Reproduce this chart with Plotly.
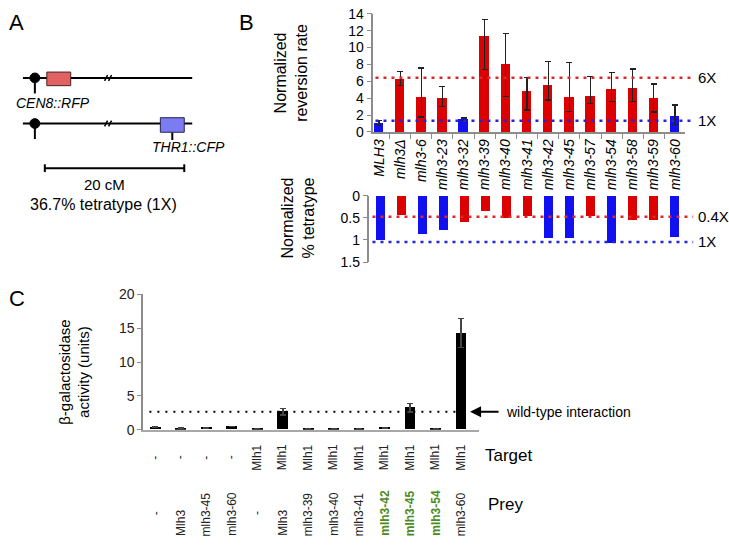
import plotly.graph_objects as go

W, H = 729, 548
FONT = "Liberation Sans, Arial, sans-serif"

def px(x):
    return x / W

def py(y):
    return 1 - y / H

# ---------------- Panel B data ----------------
b_strains = ["MLH3", "mlh3Δ", "mlh3-6", "mlh3-23", "mlh3-32", "mlh3-39", "mlh3-40",
             "mlh3-41", "mlh3-42", "mlh3-45", "mlh3-57", "mlh3-54", "mlh3-58",
             "mlh3-59", "mlh3-60"]
reversion_rate = [1.05, 6.35, 4.17, 4.05, 1.5, 11.35, 8.04, 4.91, 5.53, 4.17, 4.33,
                  5.14, 5.26, 4.06, 1.9]
reversion_err_plus = [0.3, 0.8, 3.4, 1.35, 0.15, 2.0, 3.6, 1.54, 2.86, 4.06, 2.24,
                      1.93, 2.2, 1.62, 1.3]
reversion_err_minus = [0.3, 0.8, 2.4, 1.0, 0.15, 3.9, 3.87, 2.31, 1.74, 1.74, 0.92,
                       1.55, 1.67, 1.7, 1.0]
reversion_class = ["wt", "mut", "mut", "mut", "wt", "mut", "mut", "mut", "mut", "mut",
                   "mut", "mut", "mut", "mut", "wt"]
reversion_refs = [("6X", 6.42, "mut"), ("1X", 1.32, "wt")]

tetratype = [1.0, 0.44, 0.86, 0.77, 0.59, 0.34, 0.49, 0.45, 0.95, 0.95, 0.46, 1.06,
             0.55, 0.55, 0.93]
tetratype_class = ["wt", "mut", "wt", "wt", "mut", "mut", "mut", "mut", "wt", "wt",
                   "mut", "wt", "mut", "mut", "wt"]
tetratype_refs = [("0.4X", 0.476, "mut"), ("1X", 1.046, "wt")]

# ---------------- Panel C data ----------------
c_target = ["-", "-", "-", "-", "Mlh1", "Mlh1", "Mlh1", "Mlh1", "Mlh1", "Mlh1",
            "Mlh1", "Mlh1", "Mlh1"]
c_prey = ["-", "Mlh3", "mlh3-45", "mlh3-60", "-", "Mlh3", "mlh3-39", "mlh3-40",
          "mlh3-41", "mlh3-42", "mlh3-45", "mlh3-54", "mlh3-60"]
c_prey_highlight = [False] * 9 + [True, True, True, False]
c_activity = [0.4, 0.26, 0.3, 0.5, 0.1, 2.65, 0.1, 0.1, 0.1, 0.3, 3.27, 0.15, 14.27]
c_err = [0, 0, 0, 0, 0, 0.47, 0, 0, 0, 0, 0.63, 0, 2.14]
c_wt_level = 2.65

CLASS_COLOR = {"wt": "#1010F0", "mut": "#DD0000"}
REF_COLOR = {"wt": "#2525D5", "mut": "#E02828"}
AXIS_GRAY = "#8C8C8C"

fig = go.Figure()

bx = list(range(len(b_strains)))
fig.add_trace(go.Bar(
    x=bx, y=reversion_rate, width=0.45,
    marker=dict(color=[CLASS_COLOR[c] for c in reversion_class], line=dict(width=0)),
    error_y=dict(type="data", symmetric=False, array=reversion_err_plus,
                 arrayminus=reversion_err_minus, color="#222222", thickness=1.2, width=3),
    xaxis="x", yaxis="y", showlegend=False, hoverinfo="skip"))

fig.add_trace(go.Bar(
    x=bx, y=tetratype, width=0.45, base=0,
    marker=dict(color=[CLASS_COLOR[c] for c in tetratype_class], line=dict(width=0)),
    xaxis="x2", yaxis="y2", showlegend=False, hoverinfo="skip"))

cx = list(range(len(c_activity)))
fig.add_trace(go.Bar(
    x=cx, y=c_activity, width=0.42,
    marker=dict(color="black", line=dict(width=0)),
    error_y=dict(type="data", array=c_err, color="#444444", thickness=1.5, width=3),
    xaxis="x3", yaxis="y3", showlegend=False, hoverinfo="skip"))

shapes = []
annotations = []

for label, val, cls in reversion_refs:
    shapes.append(dict(type="line", xref="paper", yref="y", x0=px(374), x1=px(693),
                       y0=val, y1=val,
                       line=dict(color=REF_COLOR[cls], width=2.5, dash="3px,5px")))
    annotations.append(dict(xref="paper", yref="y", x=px(696), y=val, text=label,
                            showarrow=False, xanchor="left", yanchor="middle",
                            font=dict(size=15, color="black", family=FONT)))
for label, val, cls in tetratype_refs:
    shapes.append(dict(type="line", xref="paper", yref="y2", x0=px(371), x1=px(693),
                       y0=val, y1=val,
                       line=dict(color=REF_COLOR[cls], width=2.5, dash="3px,5px")))
    annotations.append(dict(xref="paper", yref="y2", x=px(696), y=val, text=label,
                            showarrow=False, xanchor="left", yanchor="middle",
                            font=dict(size=15, color="black", family=FONT)))

shapes.append(dict(type="line", xref="paper", yref="y3", x0=px(147), x1=px(455),
                   y0=c_wt_level, y1=c_wt_level,
                   line=dict(color="black", width=2, dash="2px,6px")))
annotations.append(dict(xref="paper", yref="y3", x=px(469), y=c_wt_level,
                        ax=30, ay=0, axref="pixel", ayref="pixel", text="",
                        showarrow=True, arrowhead=2, arrowsize=1.1, arrowwidth=2,
                        arrowcolor="black"))
annotations.append(dict(xref="paper", yref="y3", x=px(503), y=c_wt_level,
                        text="wild-type interaction", showarrow=False,
                        xanchor="left", yanchor="middle",
                        font=dict(size=14, color="black", family=FONT)))

# ---------------- Panel A diagram ----------------
LINE_BLACK = "black"
for yy in (72, 119):
    shapes.append(dict(type="line", xref="paper", yref="paper", x0=px(20), x1=px(190),
                       y0=py(yy), y1=py(yy), line=dict(color=LINE_BLACK, width=2)))
    for dx in (0, 4):
        shapes.append(dict(type="line", xref="paper", yref="paper",
                           x0=px(102 + dx), x1=px(105 + dx), y0=py(yy + 3), y1=py(yy - 3),
                           line=dict(color=LINE_BLACK, width=1.5)))
    shapes.append(dict(type="line", xref="paper", yref="paper", x0=px(32), x1=px(32),
                       y0=py(yy), y1=py(yy + 16), line=dict(color=LINE_BLACK, width=2)))
    shapes.append(dict(type="circle", xref="paper", yref="paper", x0=px(27), x1=px(37),
                       y0=py(yy + 5), y1=py(yy - 5), fillcolor="black",
                       line=dict(color="black", width=1)))
shapes.append(dict(type="rect", xref="paper", yref="paper", x0=px(44), x1=px(68),
                   y0=py(80), y1=py(66), fillcolor="#E06262",
                   line=dict(color="#4A2020", width=1)))
shapes.append(dict(type="line", xref="paper", yref="paper", x0=px(170), x1=px(170),
                   y0=py(128), y1=py(136), line=dict(color=LINE_BLACK, width=2)))
shapes.append(dict(type="rect", xref="paper", yref="paper", x0=px(158), x1=px(182),
                   y0=py(128), y1=py(113), fillcolor="#7B7BF2",
                   line=dict(color="#252550", width=1)))
shapes.append(dict(type="line", xref="paper", yref="paper", x0=px(42), x1=px(182),
                   y0=py(165), y1=py(165), line=dict(color=LINE_BLACK, width=2)))
for xx in (42, 182):
    shapes.append(dict(type="line", xref="paper", yref="paper", x0=px(xx), x1=px(xx),
                       y0=py(161), y1=py(169), line=dict(color=LINE_BLACK, width=2)))

def text(x, y, s, size, xanchor="center", yanchor="middle", angle=0, color="black"):
    annotations.append(dict(xref="paper", yref="paper", x=px(x), y=py(y), text=s,
                            showarrow=False, xanchor=xanchor, yanchor=yanchor,
                            textangle=angle,
                            font=dict(size=size, color=color, family=FONT)))

text(50, 98, "<i>CEN8::RFP</i>", 14)
text(186, 143, "<i>THR1::CFP</i>", 14)
text(102, 182, "20 cM", 15)
text(101, 202, "36.7% tetratype (1X)", 16)

text(4, 15, "A", 22, xanchor="left")
text(235, 15, "B", 22, xanchor="left")
text(4, 299, "C", 22, xanchor="left")

text(289, 67, "Normalized<br>reversion rate", 16, angle=-90)
text(296, 216, "Normalized<br>% tetratype", 16, angle=-90)
text(71, 375, "β-galactosidase<br>activity (units)", 15, angle=-90)

for i, (t, p, hl) in enumerate(zip(c_target, c_prey, c_prey_highlight)):
    annotations.append(dict(xref="x3", yref="paper", x=i, y=py(463), text=t,
                            showarrow=False, textangle=-90, xanchor="center",
                            yanchor="middle",
                            font=dict(size=12, color="#222222", family=FONT)))
    if p == "-":
        ya, yy = "middle", 520
    else:
        ya, yy = "bottom", 546
    annotations.append(dict(xref="x3", yref="paper", x=i, y=py(yy),
                            text=("<b>%s</b>" % p) if hl else p,
                            showarrow=False, textangle=-90, xanchor="center",
                            yanchor=ya,
                            font=dict(size=12, color="#4C8A22" if hl else "#222222",
                                      family=FONT)))
text(482, 461, "Target", 17, xanchor="left")
text(485, 511, "Prey", 17, xanchor="left")

axis_common = dict(showgrid=False, zeroline=False, linecolor=AXIS_GRAY, linewidth=1.5,
                   tickcolor=AXIS_GRAY, tickfont=dict(size=14, color="black", family=FONT))

fig.update_layout(
    width=W, height=H, margin=dict(l=0, r=0, t=0, b=0),
    paper_bgcolor="white", plot_bgcolor="rgba(0,0,0,0)",
    font=dict(family=FONT, color="black"),
    showlegend=False, bargap=0,
    xaxis=dict(domain=[px(372), px(685)], range=[-0.26, 14.48], anchor="y",
               showline=True, tickmode="array", tickvals=bx,
               ticktext=["<i>%s</i>" % s for s in b_strains], tickangle=-90, ticks="",
               minor=dict(tickmode="array", tickvals=[k + 0.5 for k in range(15)],
                          ticks="outside", ticklen=5, tickcolor=AXIS_GRAY),
               **axis_common),
    yaxis=dict(domain=[py(127.7), py(6)], range=[0, 14], anchor="x", showline=True,
               tickmode="array", tickvals=list(range(0, 15, 2)), ticks="outside",
               ticklen=5, **axis_common),
    xaxis2=dict(domain=[px(368), px(685)], range=[-0.545, 14.48], anchor="y2",
                showline=False, showticklabels=False, ticks="", **axis_common),
    yaxis2=dict(domain=[py(261.7), py(193.3)], range=[1.5, 0], anchor="x2",
                showline=True, tickmode="array", tickvals=[0, 0.5, 1, 1.5],
                ticktext=["0", "0.5", "1", "1.5"], ticks="outside", ticklen=5,
                **axis_common),
    xaxis3=dict(domain=[px(140.7), px(478)], range=[-0.48, 12.7], anchor="y3",
                showline=True, showticklabels=False, ticks="",
                **{**axis_common, "linewidth": 2, "linecolor": "#A8A8A8"}),
    yaxis3=dict(domain=[py(434.5), py(295)], range=[0, 20], anchor="x3", showline=True,
                tickmode="array", tickvals=[0, 5, 10, 15, 20], ticks="outside",
                ticklen=4, **{**axis_common, "tickfont": dict(size=14, color="#222", family=FONT)}),
    shapes=shapes, annotations=annotations,
)

fig.write_html("out.html",
               config={"displayModeBar": False},
               post_script="document.body.style.margin='0px';"
                           "document.documentElement.style.overflow='hidden';")
